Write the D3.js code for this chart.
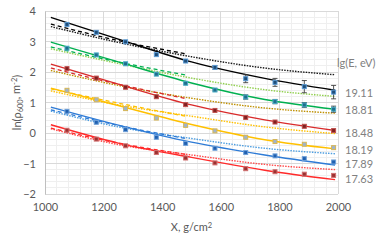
<!DOCTYPE html>
<html>
<head>
<meta charset="utf-8">
<script src="https://cdn.jsdelivr.net/npm/d3@7"></script>
<style>
  body { margin: 0; background: #fff; }
  svg { display: block; font-family: Lato, 'Open Sans', sans-serif; }
</style>
</head>
<body>
<svg id="chart" width="390" height="241"></svg>
<script>
// energies lg(E, eV)
const energies = ['19.11', '18.81', '18.48', '18.19', '17.89', '17.63'];

// measured points (depth X, g/cm2)
const depths = [1075, 1175, 1275, 1380, 1480, 1580, 1685, 1785, 1885, 1985];
const pts1911 = [3.56, 3.30, 2.99, 2.57, 2.36, 2.15, 1.78, 1.66, 1.52, 1.34];
const pts1881 = [2.78, 2.56, 2.27, 1.93, 1.63, 1.41, 1.18, 1.03, 0.92, 0.78];
const pts1848 = [2.11, 1.80, 1.50, 1.19, 0.93, 0.74, 0.51, 0.36, 0.22, 0.08];
const pts1819 = [1.40, 1.09, 0.80, 0.49, 0.25, 0.07, -0.14, -0.28, -0.37, -0.48];
const pts1789 = [0.71, 0.35, 0.11, -0.14, -0.34, -0.50, -0.64, -0.75, -0.84, -0.95];
const pts1763 = [0.09, -0.20, -0.42, -0.64, -0.82, -0.98, -1.17, -1.27, -1.35, -1.39];
const err1911 = [0, 0, 0, 0, 0.03, 0.06, 0.13, 0.13, 0.20, 0.22];
const err1881 = [0, 0, 0, 0, 0, 0.03, 0.07, 0.07, 0.08, 0.10];

// fitted curves (solid) and model curves (dotted), sampled along X
const curveX = [1020, 1250, 1500, 1750, 1990];
const fit1911 = [3.79, 3.08, 2.33, 1.79, 1.40];
const fit1881 = [2.98, 2.33, 1.64, 1.10, 0.78];
const fit1848 = [2.26, 1.60, 0.92, 0.43, 0.08];
const fit1819 = [1.47, 0.90, 0.28, -0.22, -0.52];
const fit1789 = [0.85, 0.26, -0.30, -0.72, -1.05];
const fit1763 = [0.27, -0.33, -0.80, -1.22, -1.53];

const dot1911 = [3.49, 2.97, 2.50, 2.13, 1.91];
const dot1881 = [2.76, 2.28, 1.80, 1.42, 1.20];
const dot1848 = [2.05, 1.56, 1.14, 0.82, 0.65];
const dot1819 = [1.38, 0.92, 0.55, 0.20, -0.02];
const dot1789 = [0.72, 0.20, -0.18, -0.50, -0.68];
const dot1763 = [0.14, -0.38, -0.72, -1.03, -1.20];

// short dashed curves
const dashX = [1020, 1250, 1480];
const dash1911 = [3.57, 3.03, 2.60];
const dash1881 = [2.82, 2.33, 1.90];
const dash1848 = [2.13, 1.60, 1.13];
const dash1819 = [1.45, 0.98, 0.55];
const dash1789 = [0.76, 0.25, -0.18];
const dash1763 = [0.16, -0.33, -0.70];

const xTicks = [1000, 1200, 1400, 1600, 1800, 2000];
const yTicks = [-2, -1, 0, 1, 2, 3, 4];

const series = [
  {pts: pts1911, err: err1911, fit: fit1911, dot: dot1911, dash: dash1911,
   line: '#000000', dotc: '#1a1a1a', mfill: '#1f4e79', mstroke: '#5b9bd5'},
  {pts: pts1881, err: err1881, fit: fit1881, dot: dot1881, dash: dash1881,
   line: '#00b050', dotc: '#92d050', mfill: '#1f6e8c', mstroke: '#4bacc6'},
  {pts: pts1848, err: null, fit: fit1848, dot: dot1848, dash: dash1848,
   line: '#d92b2b', dotc: '#bf9000', mfill: '#7f2020', mstroke: '#c0504d'},
  {pts: pts1819, err: null, fit: fit1819, dot: dot1819, dash: dash1819,
   line: '#ffc000', dotc: '#ffc000', mfill: '#9fb4cc', mstroke: '#d6b656'},
  {pts: pts1789, err: null, fit: fit1789, dot: dot1789, dash: dash1789,
   line: '#2e7bd6', dotc: '#4e9ee0', mfill: '#2060b0', mstroke: '#6fa0d8'},
  {pts: pts1763, err: null, fit: fit1763, dot: dot1763, dash: dash1763,
   line: '#ff2a2a', dotc: '#ff4a4a', mfill: '#9c3030', mstroke: '#d07070'}
];

const svg = d3.select('#chart');
const plotL = 45, plotR = 338, plotT = 11, plotB = 194;

const x = d3.scaleLinear().domain([1000, 2000]).range([plotL, plotR]);
const y = d3.scaleLinear().domain([-2, 4]).range([plotB, plotT]);

// minor grid
const grid = svg.append('g');
grid.selectAll('.vminor').data(d3.range(1000, 2001, 40)).enter()
  .append('line')
  .attr('x1', d => x(d)).attr('x2', d => x(d))
  .attr('y1', plotT).attr('y2', plotB)
  .attr('stroke', '#efefef').attr('stroke-width', 1).attr('shape-rendering', 'crispEdges');
grid.selectAll('.hminor').data(d3.range(-2, 4.01, 0.2)).enter()
  .append('line')
  .attr('x1', plotL).attr('x2', plotR)
  .attr('y1', d => y(d)).attr('y2', d => y(d))
  .attr('stroke', '#efefef').attr('stroke-width', 1).attr('shape-rendering', 'crispEdges');

// major grid
grid.selectAll('.vmajor').data(xTicks).enter()
  .append('line')
  .attr('x1', d => x(d)).attr('x2', d => x(d))
  .attr('y1', plotT).attr('y2', plotB)
  .attr('stroke', '#d9d9d9').attr('shape-rendering', 'crispEdges');
grid.selectAll('.hmajor').data(yTicks).enter()
  .append('line')
  .attr('x1', plotL).attr('x2', plotR)
  .attr('y1', d => y(d)).attr('y2', d => y(d))
  .attr('stroke', '#d9d9d9').attr('shape-rendering', 'crispEdges');

// axes
let xAxis = d3.axisBottom(x).tickValues(xTicks).tickSize(0).tickPadding(9).tickFormat(d3.format('d'));
let yAxis = d3.axisLeft(y).tickValues(yTicks).tickSize(0).tickPadding(9).tickFormat(d3.format('d'));

let gx = svg.append('g').attr('transform', 'translate(0,' + plotB + ')').call(xAxis);
gx.select('.domain').remove();
gx.selectAll('text').style('font-size', '11px').style('font-family', 'Lato').attr('fill', '#595959');

let gy = svg.append('g').attr('transform', 'translate(' + plotL + ',0)').call(yAxis);
gy.select('.domain').attr('stroke', '#bfbfbf');
gy.selectAll('text').style('font-size', '11px').style('font-family', 'Lato').attr('fill', '#595959');

// curves
const lineGen = d3.line().curve(d3.curveMonotoneX).x(d => x(d[0])).y(d => y(d[1]));
const plot = svg.append('g');

series.forEach(function (s) {
  plot.append('path')
    .attr('d', lineGen(curveX.map((v, i) => [v, s.dot[i]])))
    .attr('fill', 'none').attr('stroke', s.dotc).attr('stroke-width', 1.4)
    .attr('stroke-dasharray', '1.5,1.2');
  plot.append('path')
    .attr('d', lineGen(dashX.map((v, i) => [v, s.dash[i]])))
    .attr('fill', 'none').attr('stroke', s.line).attr('stroke-width', 1.3)
    .attr('stroke-dasharray', '4,3');
  plot.append('path')
    .attr('d', lineGen(curveX.map((v, i) => [v, s.fit[i]])))
    .attr('fill', 'none').attr('stroke', s.line).attr('stroke-width', 1.4);
});

// error bars and markers
series.forEach(function (s) {
  const g = plot.append('g');
  if (s.err) {
    const eb = g.selectAll('.eb').data(depths.map((v, i) => [v, s.pts[i], s.err[i]]).filter(d => d[2] > 0))
      .enter().append('g');
    eb.append('line')
      .attr('x1', d => x(d[0])).attr('x2', d => x(d[0]))
      .attr('y1', d => y(d[1] - d[2])).attr('y2', d => y(d[1] + d[2]))
      .attr('stroke', '#404040').attr('stroke-width', 0.9);
    eb.append('line')
      .attr('x1', d => x(d[0]) - 2.5).attr('x2', d => x(d[0]) + 2.5)
      .attr('y1', d => y(d[1] + d[2])).attr('y2', d => y(d[1] + d[2]))
      .attr('stroke', '#404040').attr('stroke-width', 0.9);
    eb.append('line')
      .attr('x1', d => x(d[0]) - 2.5).attr('x2', d => x(d[0]) + 2.5)
      .attr('y1', d => y(d[1] - d[2])).attr('y2', d => y(d[1] - d[2]))
      .attr('stroke', '#404040').attr('stroke-width', 0.9);
  }
  g.selectAll('rect').data(depths.map((v, i) => [v, s.pts[i]])).enter()
    .append('rect')
    .attr('x', d => x(d[0]) - 2).attr('y', d => y(d[1]) - 2)
    .attr('width', 4).attr('height', 4)
    .attr('fill', s.mfill).attr('stroke', s.mstroke).attr('stroke-width', 1);
});

// energy labels on the right
const labelPx = [93, 110, 133, 150, 164, 179];
const lab = svg.append('g').style('font-family', 'Lato').style('font-size', '11px').attr('fill', '#808080');
lab.append('text').attr('x', 337).attr('y', 63).attr('dy', '0.35em').text('lg(E, eV)');
lab.selectAll('.en').data(energies).enter()
  .append('text')
  .attr('x', 345).attr('y', (d, i) => labelPx[i]).attr('dy', '0.35em')
  .text(d => d);

// axis titles
const xt = svg.append('text')
  .attr('x', (plotL + plotR) / 2).attr('y', 227).attr('dy', '0.35em')
  .attr('text-anchor', 'middle').attr('fill', '#595959')
  .style('font-family', 'Lato').style('font-size', '11px');
xt.append('tspan').text('X, g/cm');
xt.append('tspan').attr('dy', '-0.4em').style('font-size', '7.5px').text('2');

const yt = svg.append('text')
  .attr('transform', 'translate(17,' + (plotT + plotB) / 2 + ') rotate(-90)')
  .attr('text-anchor', 'middle').attr('dy', '0.35em').attr('fill', '#595959')
  .style('font-family', 'Lato').style('font-size', '11px');
yt.append('tspan').text('ln(ρ');
yt.append('tspan').attr('dy', '0.3em').style('font-size', '7.5px').text('600');
yt.append('tspan').attr('dy', '-0.3em').text(', m');
yt.append('tspan').attr('dy', '-0.4em').style('font-size', '7.5px').text('-2');
yt.append('tspan').attr('dy', '0.4em').text(')');
</script>
</body>
</html>
